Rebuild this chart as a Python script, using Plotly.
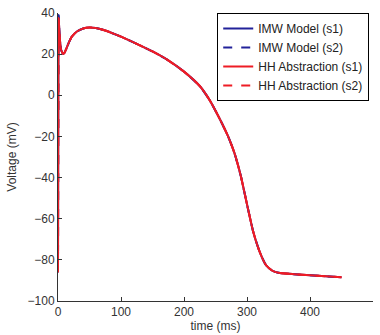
import plotly.graph_objects as go

t = [0, 0.5, 1, 1.5, 2, 3, 5, 8, 10, 13, 17, 22, 30, 40, 50, 60, 75, 100, 125, 150,
     175, 200, 225, 240, 250, 260, 270, 280, 290, 300, 310, 320, 330, 340, 350,
     375, 400, 425, 450]
imw_v = [-86, 0, 39, 35, 32, 27, 22, 20.2, 20.5, 22.5, 25.5, 28.5, 31, 32.5, 33, 32.7,
         31.5, 28.5, 25, 21.3, 17, 11.5, 4.5, -2, -7.5, -13.5, -20, -28, -39, -53,
         -66.5, -76, -82.5, -85.2, -86.3, -87, -87.5, -88, -88.5]
hh_v = [-86, 0, 37.5, 35, 32, 27, 22, 20.2, 20.5, 22.5, 25.5, 28.5, 31, 32.5, 33, 32.7,
        31.5, 28.5, 25, 21.3, 17, 11.5, 4.5, -2, -7.5, -13.5, -20, -28, -39, -53,
        -66.5, -76, -82.5, -85.2, -86.3, -87, -87.5, -88, -88.5]

names = ["IMW Model (s1)", "IMW Model (s2)", "HH Abstraction (s1)", "HH Abstraction (s2)"]
series = [imw_v, imw_v, hh_v, hh_v]
colors = ["#22229a", "#22229a", "#ee1c25", "#ee1c25"]
dashes = ["solid", "dash", "solid", "dash"]

fig = go.Figure()
for n, v, c, d in zip(names, series, colors, dashes):
    fig.add_trace(go.Scatter(x=t, y=v, mode="lines", name=n,
                             line=dict(color=c, width=2, dash=d,
                                       shape="spline", smoothing=0.5)))

font = dict(family="Liberation Sans, Arial, sans-serif", size=12, color="#333333")
fig.update_layout(
    width=380, height=335,
    margin=dict(l=58, r=7, t=13, b=34),
    paper_bgcolor="white", plot_bgcolor="white",
    font=font,
    legend=dict(x=0.988, y=1.0, xanchor="right", yanchor="top",
                bgcolor="white", bordercolor="black", borderwidth=1,
                font=dict(family="Liberation Sans, Arial, sans-serif", size=12, color="#222222"),
                itemwidth=30, tracegroupgap=0),
)
fig.update_xaxes(range=[0, 500], tickvals=[0, 100, 200, 300, 400, 500],
                 ticks="inside", ticklen=4, tickcolor="#333333",
                 showline=True, linecolor="#333333", linewidth=1,
                 showgrid=False, zeroline=False, automargin=False,
                 title=dict(text="time (ms)", standoff=0, font=font))
fig.update_yaxes(range=[-100, 40], tickvals=[-100, -80, -60, -40, -20, 0, 20, 40],
                 ticks="inside", ticklen=4, tickcolor="#333333",
                 showline=True, linecolor="#333333", linewidth=1,
                 showgrid=False, zeroline=False, automargin=False,
                 title=dict(text="Voltage (mV)", standoff=8, font=font))
fig.write_html("out.html", config={"displayModeBar": False},
               post_script="document.body.style.margin='0';")
